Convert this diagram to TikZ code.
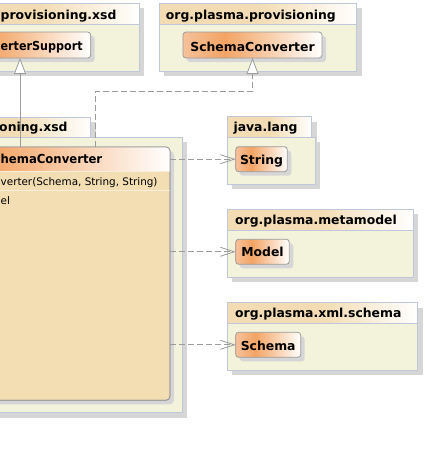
\documentclass[tikz,border=0pt]{standalone}
\usepackage{fontspec}
\setmainfont{DejaVu Sans}
\usetikzlibrary{arrows.meta,fit,shadows}
\definecolor{pkgfill}{HTML}{F3F3DC}
\definecolor{pkgline}{HTML}{BFC7DB}
\definecolor{shadowc}{HTML}{D6D6D6}
\definecolor{clsline}{HTML}{9A9A9A}
\definecolor{clsbody}{HTML}{F3DDB3}
\definecolor{sepc}{HTML}{F9EEDC}
\definecolor{orA}{HTML}{F6C19A}
\definecolor{orB}{HTML}{F3A464}
\definecolor{tabA}{HTML}{F3DCB3}
\definecolor{connc}{HTML}{9C9C9C}
\pgfdeclarehorizontalshading{clsgrad}{100bp}{color(0bp)=(orA); color(25bp)=(orA); color(40bp)=(orB); color(75bp)=(white); color(100bp)=(white)}
\pgfdeclarehorizontalshading{tabgrad}{100bp}{color(0bp)=(tabA); color(25bp)=(tabA); color(50bp)=(tabA); color(75bp)=(white); color(100bp)=(white)}
\newcommand{\namefont}{\fontsize{12.4}{14}\selectfont\bfseries}
\newcommand{\opfont}{\fontsize{10.4}{12}\selectfont}
\tikzset{
  pkgshadow/.style={drop shadow={shadow xshift=5pt, shadow yshift=-5pt, fill=shadowc, opacity=1}},
  clsshadow/.style={drop shadow={shadow xshift=4pt, shadow yshift=-4pt, fill=shadowc, opacity=1}},
  pkgtab/.style={draw=pkgline, line width=0.8pt, shading=tabgrad, inner sep=0pt, outer sep=0pt, pkgshadow},
  pkgbody/.style={draw=pkgline, line width=0.8pt, fill=pkgfill, inner sep=0pt, outer sep=0pt, pkgshadow},
  cls/.style={draw=clsline, line width=0.8pt, rounded corners=3pt, shading=clsgrad, inner sep=0pt, outer sep=0pt, clsshadow},
  bigcls/.style={draw=clsline, line width=0.8pt, rounded corners=4pt, fill=clsbody, inner sep=0pt, outer sep=0pt, clsshadow},
  pkgname/.style={font=\namefont, inner sep=0pt},
  optext/.style={font=\opfont, inner sep=0pt},
  sepline/.style={draw=sepc, line width=1pt},
  gen/.style={draw=connc, line width=0.8pt, -{Triangle[length=16pt,width=12pt,fill=white]}},
  real/.style={gen, dash pattern=on 6pt off 3pt},
  dep/.style={draw=connc, line width=0.8pt, dash pattern=on 6pt off 3pt, -{Straight Barb[length=14pt,width=9pt]}}
}
\begin{document}
\begin{tikzpicture}[x=1pt,y=-1pt]
\useasboundingbox (0,0) rectangle (425,456);
\fill[white] (0,0) rectangle (425,456);
\clip (0,0) rectangle (425,456);

% package A (top-left)
\node[pkgtab, fit={(-60,3) (139,24)}] (pAt) {};
\node[pkgbody, fit={(-60,24) (139,71)}] (pA) {};
\node[pkgname, anchor=base west] (pAn) at (0.5,19) {provisioning.xsd};
\node[cls, fit={(-50.7,32) (90.7,58)}] (sup) {};
\node[pkgname, anchor=base west, xscale=0.9] (supn) at (0.5,50.7) {erterSupport};

% package B org.plasma.provisioning
\node[pkgtab, fit={(159.3,3) (356.7,24)}] (pBt) {};
\node[pkgbody, fit={(159.3,24) (356.7,71)}] (pB) {};
\node[pkgname, anchor=base west] (pBn) at (165.7,19) {org.plasma.provisioning};
\node[cls, fit={(183,32) (322,58)}] (sc) {};
\node[pkgname, anchor=base] (scn) at (252.5,51) {SchemaConverter};

% package C (middle-left)
\node[pkgtab, fit={(-60,117) (90.7,137)}] (pCt) {};
\node[pkgbody, fit={(-60,137) (182,412.7)}] (pC) {};
\node[pkgname, anchor=base east] (pCn) at (67.7,131.7) {oning.xsd};
\node[bigcls, fit={(-90,147) (170,400.3)}] (big) {};
\coordinate (hl) at (0,171.7);
\coordinate (sl) at (0,190);
\begin{scope}
  \clip[rounded corners=4pt] (big.north west) rectangle (big.south east);
  \shade[shading=clsgrad] (big.north west) rectangle (big.east |- hl);
  \draw[sepline] (big.west |- hl) -- (big.east |- hl);
  \draw[sepline] (big.west |- sl) -- (big.east |- sl);
\end{scope}
\draw[draw=clsline, line width=0.8pt, rounded corners=4pt] (big.north west) rectangle (big.south east);
\node[pkgname, anchor=base west, xscale=0.94] (bign) at (0.5,163.3) {hemaConverter};
\node[optext, anchor=base west] (op1) at (0.5,185) {verter(Schema, String, String)};
\node[optext, anchor=base west] (op2) at (0.5,204) {el};

% package D java.lang
\node[pkgtab, fit={(227.3,116.7) (311.7,137.3)}] (pDt) {};
\node[pkgbody, fit={(227.3,137.3) (315.3,184.3)}] (pD) {};
\node[pkgname, anchor=base west] (pDn) at (233.3,131.7) {java.lang};
\node[cls, fit={(235.7,146.7) (287.3,171.7)}] (str) {};
\node[pkgname, anchor=base] (strn) at (261.5,164.3) {String};

% package E org.plasma.metamodel
\node[pkgtab, fit={(227.3,209.3) (413,230.7)}] (pEt) {};
\node[pkgbody, fit={(227.3,230.7) (413,277.3)}] (pE) {};
\node[pkgname, anchor=base west] (pEn) at (235,224.3) {org.plasma.metamodel};
\node[cls, fit={(235.7,239.3) (289.3,264.3)}] (mod) {};
\node[pkgname, anchor=base] (modn) at (262.5,256.7) {Model};

% package F org.plasma.xml.schema
\node[pkgtab, fit={(227.3,302.7) (417.7,323.3)}] (pFt) {};
\node[pkgbody, fit={(227.3,323.3) (417.7,370)}] (pF) {};
\node[pkgname, anchor=base west] (pFn) at (235,317.3) {org.plasma.xml.schema};
\node[cls, fit={(235.7,332.3) (300.7,357.3)}] (sch) {};
\node[pkgname, anchor=base] (schn) at (268.2,350) {Schema};

% connectors
\coordinate (rb) at (95.7,91);
\draw[gen] (big.north -| sup.south) -- (sup.south);
\draw[real] (big.north -| rb) -- (rb) -| (sc.south);
\draw[dep] (big.east |- str.west) -- (str.west);
\draw[dep] (big.east |- mod.west) -- (mod.west);
\draw[dep] (big.east |- sch.west) -- (sch.west);
\end{tikzpicture}
\end{document}
